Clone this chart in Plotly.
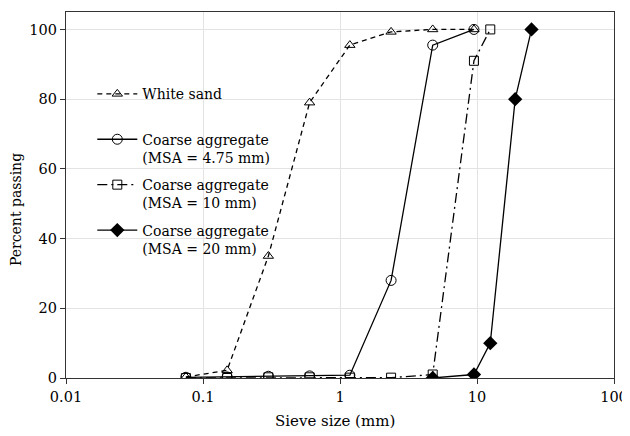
import plotly.graph_objects as go

# Data
sand_x = [0.075, 0.15, 0.3, 0.6, 1.18, 2.36, 4.75, 9.5]
sand_y = [0.3, 2.2, 35, 79, 95.5, 99.3, 100, 100]

ca475_x = [0.075, 0.15, 0.3, 0.6, 1.18, 2.36, 4.75, 9.5]
ca475_y = [0.2, 0.3, 0.5, 0.6, 0.8, 28, 95.5, 100]

ca10_x = [0.075, 0.15, 0.3, 0.6, 1.18, 2.36, 4.75, 9.5, 12.5]
ca10_y = [0, 0, 0.2, 0.2, 0.1, 0.1, 1.0, 91, 100]

ca20_x = [4.75, 9.5, 12.5, 19, 25]
ca20_y = [0, 1.0, 10, 80, 100]

names = ["White sand",
         "Coarse aggregate<br>(MSA = 4.75 mm)",
         "Coarse aggregate<br>(MSA = 10 mm)",
         "Coarse aggregate<br>(MSA = 20 mm)"]

x_ticks = [0.01, 0.1, 1, 10, 100]
x_tick_labels = ["0.01", "0.1", "1", "10", "100"]
y_ticks = [0, 20, 40, 60, 80, 100]

x_title = "Sieve size (mm)"
y_title = "Percent passing"

FONT = "DejaVu Serif"

fig = go.Figure()
fig.add_trace(go.Scatter(x=sand_x, y=sand_y, name=names[0] + "<br> ", mode="lines+markers",
                         legendgroup="g1",
                         line=dict(color="black", width=1.3, dash="5px,4px"),
                         marker=dict(symbol="triangle-up-open", size=9, color="black",
                                     line=dict(width=1))))
fig.add_trace(go.Scatter(x=ca475_x, y=ca475_y, name=names[1], mode="lines+markers",
                         legendgroup="g2",
                         line=dict(color="black", width=1.3),
                         marker=dict(symbol="circle-open", size=10, color="black",
                                     line=dict(width=1))))
fig.add_trace(go.Scatter(x=ca10_x, y=ca10_y, name=names[2], mode="lines+markers",
                         legendgroup="g3",
                         line=dict(color="black", width=1.3, dash="10px,4px,2px,4px"),
                         marker=dict(symbol="square-open", size=9, color="black",
                                     line=dict(width=1))))
fig.add_trace(go.Scatter(x=ca20_x, y=ca20_y, name=names[3], mode="lines+markers",
                         legendgroup="g4",
                         line=dict(color="black", width=1.3),
                         marker=dict(symbol="diamond", size=11, color="black")))

fig.update_layout(
    width=622, height=428,
    margin=dict(l=58, r=16, t=4, b=58),
    paper_bgcolor="white", plot_bgcolor="white",
    font=dict(family=FONT, size=14, color="black"),
    showlegend=True,
    legend=dict(x=0.048, y=0.819, xanchor="left", yanchor="top",
                bgcolor="rgba(0,0,0,0)", valign="top", traceorder="grouped",
                tracegroupgap=6, itemwidth=40,
                font=dict(family=FONT, size=14, color="black")),
    annotations=[
        dict(text=x_title, xref="paper", yref="paper", x=0.491, y=-0.1175,
             xanchor="center", yanchor="middle", showarrow=False,
             font=dict(family=FONT, size=15)),
        dict(text=y_title, xref="paper", yref="paper", x=-0.0912, y=0.459,
             xanchor="center", yanchor="middle", showarrow=False, textangle=-90,
             font=dict(family=FONT, size=14)),
    ],
)
fig.update_xaxes(type="log", range=[-2, 2], tickvals=x_ticks, ticktext=x_tick_labels,
                 automargin=False,
                 showgrid=True, gridcolor="#e3e3e3", gridwidth=1,
                 showline=True, linecolor="#333", linewidth=1.2, mirror=True,
                 ticks="outside", ticklen=5, tickcolor="#333",
                 tickfont=dict(family=FONT, size=14.5),
                 zeroline=False)
fig.update_yaxes(range=[0, 105], tickvals=y_ticks,
                 automargin=False,
                 showgrid=True, gridcolor="#e3e3e3", gridwidth=1,
                 showline=True, linecolor="#333", linewidth=1.2, mirror=True,
                 ticks="outside", ticklen=5, tickcolor="#333",
                 tickfont=dict(family=FONT, size=14.5),
                 zeroline=False)

fig.write_html("out.html")
